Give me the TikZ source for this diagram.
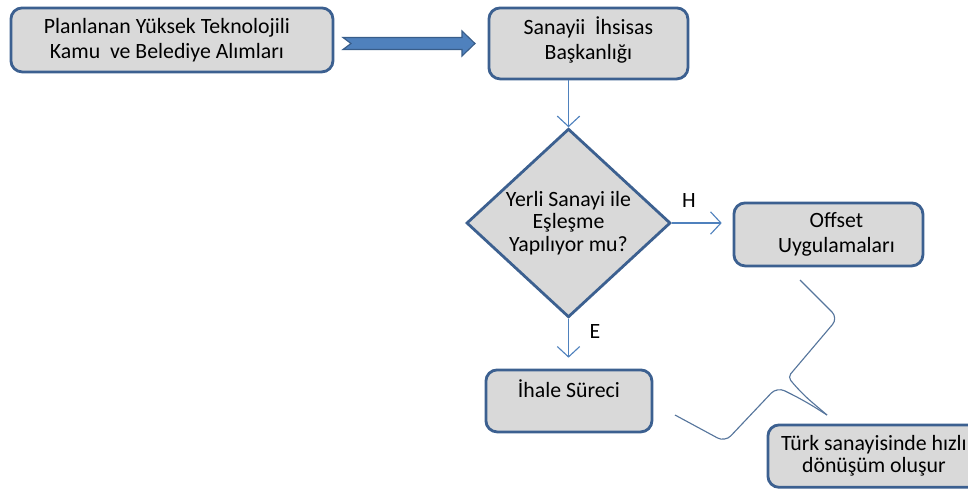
\documentclass[tikz,border=0pt]{standalone}
\usepackage{fontspec}
\setmainfont{Carlito}
\usetikzlibrary{shapes.geometric,arrows.meta}
\definecolor{kutukenar}{HTML}{3C6090}
\definecolor{kutudolgu}{HTML}{D9D9D9}
\definecolor{okmavi}{HTML}{4F81BD}
\definecolor{okkenar}{HTML}{385D8A}

\begin{document}
\begin{tikzpicture}
     [
     x=0.025cm, y=-0.025cm,
     every node/.style={font=\fontsize{15.5}{17.8}\selectfont, align=center},
     kutu/.style={draw=kutukenar, fill=kutudolgu, line width=2pt, rounded corners=8pt, anchor=north west},
     ok/.style={draw=okmavi, line width=0.8pt, -{Straight Barb[length=2.6mm,width=5.6mm]}},
     kavis/.style={draw=okkenar!85, line width=0.8pt, rounded corners=6pt}
     ]
     \clip (0,0) rectangle (968,488);
     \node[kutu, minimum width=8.05cm, minimum height=1.6cm] (alim) at (9.5,6.5) {Planlanan Yüksek Teknolojili\hspace*{0.25cm}\\Kamu \ ve Belediye Alımları\hspace*{0.25cm}};
     \node[kutu, minimum width=4.975cm, minimum height=1.775cm] (sanayi) at (487.5,6.5) {Sanayii \ İhsisas\\Başkanlığı\\[-10.5pt]~};
     \node[draw=kutukenar, fill=kutudolgu, line width=2pt, diamond, inner sep=0pt, minimum width=5.1cm, minimum height=4.275cm, font=\fontsize{15.5}{16}\selectfont] (karar) at (568.5,223) {Yerli Sanayi ile\\Eşleşme\\Yapılıyor mu?};
     \node[kutu, minimum width=4.725cm, minimum height=1.575cm] (offset) at (732.5,201.5) {\hspace*{0.4cm}Offset\\\hspace*{0.4cm}Uygulamaları};
     \node[kutu, minimum width=4.15cm, minimum height=1.55cm] (ihale) at (484.5,368.5) {İhale Süreci\\~};
     \node[kutu, minimum width=5.3cm, minimum height=1.56cm, font=\fontsize{15.5}{15.8}\selectfont] (donusum) at (766.5,423.5) {Türk sanayisinde hızlı\\dönüşüm oluşur};
     \node (h) at (689,201) {H};
     \node (e) at (595,332) {E};
     \filldraw[fill=okmavi, draw=okkenar, line width=0.8pt]
     (343,37.5) -- (462,37.5) -- (462,31) -- (475,43.5) -- (462,56) -- (462,49.5) -- (343,49.5) -- (351,43.5) -- cycle;
     \draw[ok] (karar.north |- sanayi.south) -- (karar.north);
     \draw[ok, shorten >=0.27cm] (karar.east) -- (karar.east -| offset.west);
     \draw[ok, shorten >=0.27cm] (karar.south) -- (karar.south |- ihale.north);
     \draw[kavis] (800,280) -- (838,318) [rounded corners=3pt] -- (788,377) [rounded corners=10pt] -- (800,392) -- (827,415);
     \draw[kavis] (675,415) -- (725,442) -- (777,387) [rounded corners=10pt] -- (805,401) -- (827,415);
\end{tikzpicture}
\end{document}
